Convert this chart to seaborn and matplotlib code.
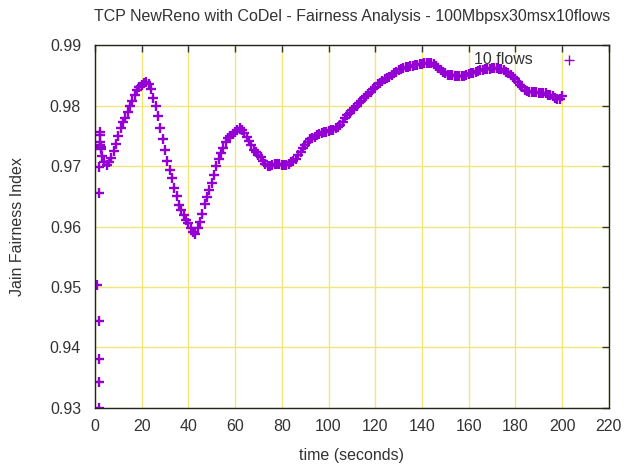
import numpy as np
import pandas as pd
import matplotlib
matplotlib.use("Agg")
import matplotlib.pyplot as plt
import seaborn as sns

# Early samples while the flows are still ramping up
early_time = [1.0, 1.5, 1.6, 1.6, 1.6, 1.7, 1.8, 2.0, 2.1, 2.2, 2.4, 2.6]
early_jain = [0.9503, 0.9300, 0.9343, 0.9381, 0.9444, 0.9655, 0.9699,
              0.9757, 0.9751, 0.9740, 0.9732, 0.9728]

# Jain fairness index sampled once per second from t = 2 s to t = 200 s
steady_jain = [
    0.9735, 0.9716, 0.9706, 0.9702, 0.9706, 0.9714, 0.9725, 0.9737, 0.9750,  # 2-10
    0.9762, 0.9772, 0.9780, 0.9790, 0.9799, 0.9808, 0.9818, 0.9825, 0.9830, 0.9834,  # 11-20
    0.9837, 0.9839, 0.9836, 0.9827, 0.9813, 0.9800, 0.9783, 0.9762, 0.9745, 0.9726,  # 21-30
    0.9709, 0.9694, 0.9680, 0.9663, 0.9650, 0.9636, 0.9627, 0.9619, 0.9611, 0.9605,  # 31-40
    0.9598, 0.9591, 0.9587, 0.9597, 0.9608, 0.9620, 0.9637, 0.9648, 0.9660, 0.9672,  # 41-50
    0.9685, 0.9700, 0.9712, 0.9722, 0.9729, 0.9740, 0.9746, 0.9750, 0.9753, 0.9756,  # 51-60
    0.9760, 0.9762, 0.9760, 0.9755, 0.9748, 0.9742, 0.9734, 0.9727, 0.9723, 0.9719,  # 61-70
    0.9715, 0.9709, 0.9704, 0.9700, 0.9700, 0.9702, 0.9703, 0.9703, 0.9703, 0.9702,  # 71-80
    0.9702, 0.9702, 0.9704, 0.9706, 0.9708, 0.9712, 0.9718, 0.9723, 0.9729, 0.9734,  # 81-90
    0.9739, 0.9744, 0.9746, 0.9748, 0.9751, 0.9753, 0.9755, 0.9756, 0.9757, 0.9758,  # 91-100
    0.9759, 0.9760, 0.9763, 0.9765, 0.9768, 0.9773, 0.9779, 0.9784, 0.9788, 0.9792,  # 101-110
    0.9796, 0.9800, 0.9804, 0.9808, 0.9812, 0.9815, 0.9819, 0.9823, 0.9827, 0.9831,  # 111-120
    0.9835, 0.9838, 0.9840, 0.9843, 0.9845, 0.9847, 0.9850, 0.9853, 0.9856, 0.9858,  # 121-130
    0.9860, 0.9862, 0.9863, 0.9864, 0.9865, 0.9866, 0.9867, 0.9867, 0.9868, 0.9869,  # 131-140
    0.9870, 0.9871, 0.9871, 0.9870, 0.9868, 0.9865, 0.9862, 0.9859, 0.9856, 0.9853,  # 141-150
    0.9851, 0.9850, 0.9850, 0.9849, 0.9849, 0.9849, 0.9849, 0.9849, 0.9850, 0.9852,  # 151-160
    0.9853, 0.9854, 0.9856, 0.9857, 0.9858, 0.9859, 0.9860, 0.9861, 0.9861, 0.9862,  # 161-170
    0.9862, 0.9862, 0.9861, 0.9860, 0.9858, 0.9856, 0.9853, 0.9850, 0.9847, 0.9843,  # 171-180
    0.9839, 0.9834, 0.9830, 0.9826, 0.9824, 0.9823, 0.9822, 0.9822, 0.9822, 0.9821,  # 181-190
    0.9821, 0.9820, 0.9820, 0.9818, 0.9817, 0.9815, 0.9813, 0.9811, 0.9810, 0.9815,  # 191-200
]
steady_time = list(range(2, 201))

x_ticks = list(range(0, 221, 20))
y_ticks = [0.93, 0.94, 0.95, 0.96, 0.97, 0.98, 0.99]

df = pd.DataFrame({
    "time": early_time + steady_time,
    "jain": early_jain + steady_jain,
})

sns.set_theme(style="white")
plt.rcParams["font.family"] = ["Liberation Sans", "DejaVu Sans"]

fig = plt.figure(figsize=(6.25, 4.65), dpi=100)
ax = fig.add_axes([0.152, 0.1226, 0.822, 0.7806])

text_color = "#333333"
grid_color = "#f2e676"
ax.set_axisbelow(True)
ax.grid(True, color=grid_color, linewidth=1.0)

sns.scatterplot(data=df, x="time", y="jain", ax=ax, marker="+",
                color="#9400d3", s=60, linewidth=1.7, label="10 flows",
                legend=True)

ax.set_xlim(0, 220)
ax.set_ylim(0.93, 0.99)
ax.set_xticks(x_ticks)
ax.set_yticks(y_ticks)
ax.set_xticklabels([str(v) for v in x_ticks])
ax.set_yticklabels([f"{v:.2f}" for v in y_ticks])

for side in ax.spines.values():
    side.set_color("#222222")
    side.set_linewidth(1.0)
ax.tick_params(direction="in", length=5, width=1, color="#333333",
               top=True, right=True, labelsize=11.5, labelcolor=text_color)
ax.tick_params(axis="y", pad=10)
ax.tick_params(axis="x", pad=8)

ax.set_xlabel("time (seconds)", fontsize=11.5, color=text_color, labelpad=10)
ax.set_ylabel("Jain Fairness Index", fontsize=11.5, color=text_color, labelpad=18)
ax.set_title("TCP NewReno with CoDel - Fairness Analysis - 100Mbpsx30msx10flows",
             fontsize=11.5, color=text_color, pad=17)

leg = ax.legend(loc="upper right", bbox_to_anchor=(0.968, 1.012), frameon=False,
                markerfirst=False, fontsize=11.5, handletextpad=1.5,
                borderaxespad=0.3, handlelength=1.5)
for t in leg.get_texts():
    t.set_color(text_color)
for h in leg.legend_handles:
    h.set_linewidth(1.0)

fig.savefig("out.png", dpi=100)
